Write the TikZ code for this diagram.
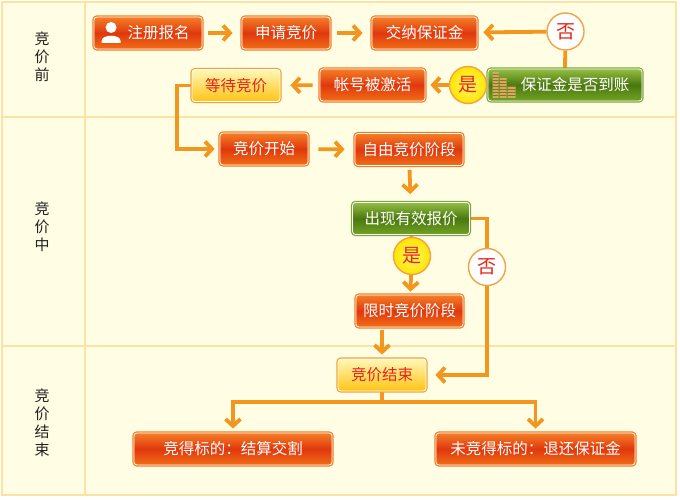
\documentclass[tikz,border=0pt]{standalone}
\usepackage{fontspec}
\setmainfont{Noto Sans CJK SC}
\usetikzlibrary{arrows.meta}

\definecolor{lanebg}{HTML}{FFFDE3}
\definecolor{laneline}{HTML}{FCE3A2}
\definecolor{flowc}{HTML}{F2961E}
\definecolor{oTop}{HTML}{F47F26}
\definecolor{oMid}{HTML}{E0380E}
\definecolor{oBot}{HTML}{F26E16}
\definecolor{oEdge}{HTML}{EF7D26}
\definecolor{gTop}{HTML}{94BE42}
\definecolor{gMid}{HTML}{4A780E}
\definecolor{gBot}{HTML}{72A226}
\definecolor{gEdge}{HTML}{7DA73C}
\definecolor{yTop}{HTML}{FFF7B8}
\definecolor{yBot}{HTML}{FFC414}
\definecolor{yEdge}{HTML}{F3A232}
\definecolor{markRed}{HTML}{E8231B}
\definecolor{cEdge}{HTML}{F2A345}
\definecolor{yesIn}{HTML}{FFF66A}
\definecolor{yesOut}{HTML}{FFE500}
\definecolor{coinc}{HTML}{CDAE5A}
\definecolor{coinline}{HTML}{8E7030}
\definecolor{lanetext}{HTML}{222222}

\pgfdeclarelayer{lanes}
\pgfdeclarelayer{links}
\pgfsetlayers{lanes,links,main}

\begin{document}
\begin{tikzpicture}[x=1pt,y=-1pt,
	box/.style={rounded corners=3pt, minimum height=32pt, inner sep=0pt, draw=white, line width=0.8pt, font=\fontsize{15.5}{15.5}\selectfont},
	obox/.style={box, text=white, top color=oTop, bottom color=oBot, middle color=oMid, preaction={draw=oEdge, line width=3.2pt}},
	gbox/.style={box, text=white, top color=gTop, bottom color=gBot, middle color=gMid, preaction={draw=gEdge, line width=3.2pt}},
	ybox/.style={box, text=markRed, top color=yTop, bottom color=yBot, preaction={draw=yEdge, line width=3.2pt}},
	nocirc/.style={circle, minimum size=37pt, inner sep=0pt, fill=white, draw=cEdge, line width=1.4pt, text=markRed, font=\fontsize{19}{19}\selectfont},
	yescirc/.style={nocirc, inner color=yesIn, outer color=yesOut},
	lanelabel/.style={align=center, text=lanetext, font=\fontsize{15}{18}\selectfont},
	flowline/.style={draw=flowc, line width=3.8pt},
	flow/.style={flowline, -{Straight Barb[length=7pt,width=15pt]}}]
	\useasboundingbox (0,0) rectangle (680,500);

	% swim lanes
	\begin{pgfonlayer}{lanes}
		\fill[white] (0,0) rectangle (680,500);
		\draw[laneline, fill=lanebg, line width=1.5pt] (2,2) rectangle (676,495);
		\draw[laneline, line width=1.5pt] (85,2) -- (85,495) (2,117) -- (676,117) (2,346) -- (676,346);
	\end{pgfonlayer}
	\node[lanelabel] (lbl1) at (42,57) {竞\\价\\前};
	\node[lanelabel] (lbl2) at (42,227) {竞\\价\\中};
	\node[lanelabel] (lbl3) at (42,423) {竞\\价\\结\\束};

	% before
	\node[obox, minimum width=108pt] (reg) at (148,33) {\hspace*{21pt}注册报名};
	\node[obox, minimum width=88pt] (apply) at (286,33) {申请竞价};
	\node[obox, minimum width=105pt] (pay) at (424.5,33) {交纳保证金};
	\node[nocirc] (no1) at (565.5,31.5) {否};
	\node[gbox, minimum width=154pt] (check) at (565,85) {\hspace*{20pt}保证金是否到账};
	\node[yescirc] (yes1) at (468,85) {是};
	\node[obox, minimum width=105pt] (acct) at (372.5,85) {帐号被激活};
	\node[ybox, minimum width=88pt] (wait) at (236,85.5) {等待竞价};

	% during
	\node[obox, minimum width=88pt] (start) at (264,149) {竞价开始};
	\node[obox, minimum width=108pt] (free) at (409,149.5) {自由竞价阶段};
	\node[gbox, minimum width=117pt] (bid) at (411,218.5) {出现有效报价};
	\node[yescirc] (yes2) at (412,256) {是};
	\node[nocirc] (no2) at (487,267) {否};
	\node[obox, minimum width=107pt] (timed) at (409.5,311) {限时竞价阶段};

	% end
	\node[ybox, minimum width=88pt] (end) at (382,375) {竞价结束};
	\node[obox, minimum width=198pt] (win) at (233,449) {竞得标的：结算交割};
	\node[obox, minimum width=199pt] (lose) at (535.5,449) {未竞得标的：退还保证金};
	\coordinate (turn) at (177,149);
	\coordinate (split) at (382,402);

	% icons
	\begin{scope}[shift={(reg.west)}]
		\fill[white] (17.5,-5.5) circle (5.5pt);
		\fill[white] (8,10) -- (8,8) .. controls (8,1) and (27,1) .. (27,8) -- (27,10) -- cycle;
	\end{scope}
	\begin{scope}[shift={(check.west)}]
		\fill[coinc] (5,-13) rectangle (11,13) (12,-7) rectangle (19,13) (20,1) rectangle (28,13);
		\clip (5,-13) rectangle (11,13) (12,-7) rectangle (19,13) (20,1) rectangle (28,13);
		\foreach \cy in {-11,-8,...,13}
			\draw[coinline, line width=0.6pt] (4,\cy) -- (29,\cy);
	\end{scope}

	% connectors
	\begin{pgfonlayer}{links}
		\draw[flow, shorten <=6pt, shorten >=9pt] (reg) -- (apply);
		\draw[flow, shorten <=7pt, shorten >=9pt] (apply) -- (pay);
		\draw[flow, shorten >=6pt] (no1) -- (pay);
		\draw[flowline] (check.north) -- (no1);
		\draw[flow, shorten >=5pt] (yes1) -- (acct);
		\draw[flow, shorten <=7pt, shorten >=10pt] (acct) -- (wait);
		\draw[flow, shorten >=5pt] (wait.west) -| (turn) -- (start);
		\draw[flow, shorten <=10pt, shorten >=10pt] (start) -- (free);
		\draw[flow, shorten <=4pt, shorten >=8pt] (free) -- (bid);
		\draw[flowline] (bid) -- (yes2);
		\draw[flow, shorten >=3pt] (yes2) -- (timed);
		\draw[flow, shorten >=9pt] (bid.east) -| (no2) |- (end.east);
		\draw[flow, shorten <=3pt, shorten >=4pt] (timed.south -| end.north) -- (end.north);
		\draw[flowline] (end) -- (split);
		\draw[flow, shorten >=4pt] (split) -| (win);
		\draw[flow, shorten >=4pt] (split) -| (lose);
	\end{pgfonlayer}
\end{tikzpicture}
\end{document}
